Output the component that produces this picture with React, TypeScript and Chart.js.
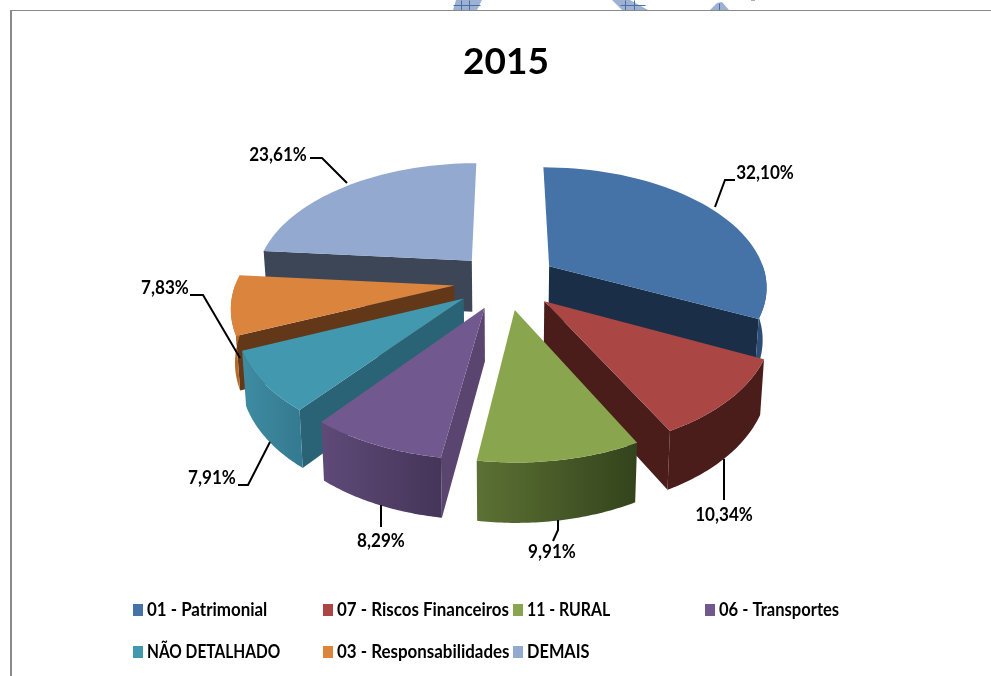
import React, { useEffect, useRef } from "react";
import { Chart, registerables } from "chart.js";

Chart.register(...registerables);

const chartTitle = "2015";
const categories = [
  "01 - Patrimonial",
  "07 - Riscos Financeiros",
  "11 - RURAL",
  "06 - Transportes",
  "NÃO DETALHADO",
  "03 - Responsabilidades",
  "DEMAIS",
];
const shares = [32.1, 10.34, 9.91, 8.29, 7.91, 7.83, 23.61];
const faceColors = ["#4572a7", "#aa4643", "#89a54e", "#71588f", "#4198af", "#db843d", "#93a9cf"];
const cutWallColors = ["#1a2e47", "#4a1c1a", "#3e4f22", "#5a4570", "#2a6375", "#633818", "#3c4657"];
const rimLeftColors = ["#2c4d77", "#4a1c1a", "#5c7134", "#5f4a78", "#3f8ca2", "#b56a2a", "#3c4657"];
const rimRightColors = ["#2c4d77", "#4a1c1a", "#33431c", "#453559", "#347a90", "#b56a2a", "#3c4657"];

// label style: [text centre x, text centre y], leader polyline
const labelAnchors: [number, number][] = [
  [765, 173], [724, 515], [552, 552], [381, 541], [212, 478], [165, 288], [278, 155],
];
const leaderPaths: [number, number][][] = [
  [[715, 207], [725, 180], [735, 180]],
  [[724, 459], [724, 500]],
  [[558, 520], [558, 530], [553, 541]],
  [[381, 505], [381, 527]],
  [[270, 442], [248, 485], [238, 485]],
  [[240, 358], [203, 295], [190, 295]],
  [[347, 183], [322, 158], [310, 158]],
];
const legendColumns = [133, 323, 513, 705];
const legendRows = [610, 652];
const legendCells = [[0, 0], [1, 0], [2, 0], [3, 0], [0, 1], [1, 1], [2, 1]];
const legendSqueeze = [0.94, 0.94, 0.88, 0.92, 0.86, 0.94, 0.91];

const EXPLODE = 52;
const TILT = 0.544;
const PERSPECTIVE = 0.000716;
const DEPTH = 52;
const FONT = "Lato, 'Open Sans', sans-serif";

const squeezedText = (ctx: any, text: string, x: number, y: number, factor: number) => {
  ctx.fillText(text, x, y, ctx.measureText(text).width * factor);
};

const pie3d = {
  id: "pie3d",
  beforeDraw(chart: any) {
    const { ctx, width, height } = chart;
    ctx.save();
    ctx.fillStyle = "#ffffff";
    ctx.fillRect(0, 0, width, height);
    // watermark fragments above the frame
    const bits = [
      [[453, 10], [456, 0], [482, 0], [477, 10]],
      [[612, 0], [630, 0], [648, 10], [622, 10]],
      [[710, 10], [717, 3], [722, 2], [729, 10]],
      [[751, 0], [755, 0], [755, 1], [751, 1]],
    ];
    ctx.fillStyle = "#9db2d3";
    bits.forEach((b) => {
      ctx.beginPath();
      b.forEach(([x, y], i) => (i ? ctx.lineTo(x, y) : ctx.moveTo(x, y)));
      ctx.closePath();
      ctx.fill();
    });
    ctx.strokeStyle = "#4a6fa5";
    ctx.lineWidth = 1;
    [[461, 0, 461, 10], [469, 0, 469, 10], [625, 0, 625, 10], [634, 0, 634, 10], [719, 3, 719, 10], [453, 5, 480, 5], [620, 5, 645, 5]].forEach(
      ([a, b, c, d]) => {
        ctx.beginPath();
        ctx.moveTo(a + 0.5, b + 0.5);
        ctx.lineTo(c + 0.5, d + 0.5);
        ctx.stroke();
      }
    );
    ctx.fillStyle = "#8a8a8a";
    ctx.fillRect(10, 10, width - 10, 1);
    ctx.fillRect(10, 10, 2, height - 10);
    ctx.restore();
  },
  beforeDatasetsDraw(chart: any) {
    const { ctx } = chart;
    const arcs = chart.getDatasetMeta(0).data;
    const order = arcs
      .map((_: any, i: number) => i)
      .sort((a: number, b: number) => {
        const m = (el: any) => (el.startAngle + el.endAngle) / 2;
        return Math.sin(m(arcs[a])) - Math.sin(m(arcs[b]));
      });
    order.forEach((i: number) => {
      const el = arcs[i];
      const s = el.startAngle;
      const e = el.endAngle;
      const R = el.outerRadius;
      const mid = (s + e) / 2;
      const ou = EXPLODE * Math.cos(mid);
      const ov = EXPLODE * Math.sin(mid);
      const proj = (u: number, v: number, low: boolean) => {
        const w = 1 / (1 - PERSPECTIVE * v);
        return [
          el.x + u * w * (low ? 0.985 : 1),
          el.y + TILT * v * w + (low ? DEPTH * Math.pow(w, 0.7) : 0),
        ];
      };
      const rimPt = (a: number, low: boolean) => proj(ou + R * Math.cos(a), ov + R * Math.sin(a), low);
      const apex = (low: boolean) => proj(ou, ov, low);
      const poly = (pts: number[][], fill: any) => {
        ctx.beginPath();
        pts.forEach(([x, y], k) => (k ? ctx.lineTo(x, y) : ctx.moveTo(x, y)));
        ctx.closePath();
        ctx.fillStyle = fill;
        ctx.fill();
      };
      const steps = 48;
      const angles: number[] = [];
      for (let k = 0; k <= steps; k++) angles.push(s + ((e - s) * k) / steps);

      // visible cut faces
      if (Math.sin(s - Math.PI / 2) > 0) {
        poly([apex(false), rimPt(s, false), rimPt(s, true), apex(true)], cutWallColors[i]);
      }
      if (Math.sin(e + Math.PI / 2) > 0) {
        poly([apex(false), rimPt(e, false), rimPt(e, true), apex(true)], cutWallColors[i]);
      }
      // visible outer rim
      const vis = angles.filter((a) => Math.sin(a) > -0.02);
      if (vis.length > 1) {
        const top = vis.map((a) => rimPt(a, false));
        const bottom = vis.map((a) => rimPt(a, true)).reverse();
        const xs = top.map((p) => p[0]);
        const g = ctx.createLinearGradient(Math.min(...xs), 0, Math.max(...xs), 0);
        g.addColorStop(0, rimLeftColors[i]);
        g.addColorStop(1, rimRightColors[i]);
        poly([...top, ...bottom], g);
      }
      // top face
      poly([apex(false), ...angles.map((a) => rimPt(a, false))], faceColors[i]);
    });
    return false;
  },
  afterDraw(chart: any) {
    const { ctx } = chart;
    ctx.save();
    ctx.strokeStyle = "#000000";
    ctx.lineWidth = 2;
    leaderPaths.forEach((path) => {
      ctx.beginPath();
      path.forEach(([x, y], k) => (k ? ctx.lineTo(x, y) : ctx.moveTo(x, y)));
      ctx.stroke();
    });
    ctx.fillStyle = "#000000";
    ctx.textAlign = "center";
    ctx.textBaseline = "middle";
    ctx.font = `bold 18px ${FONT}`;
    shares.forEach((v, i) => {
      const [x, y] = labelAnchors[i];
      squeezedText(ctx, v.toFixed(2).replace(".", ",") + "%", x, y, 0.95);
    });
    ctx.textAlign = "left";
    categories.forEach((name, i) => {
      const [c, r] = legendCells[i];
      const x = legendColumns[c];
      const y = legendRows[r];
      ctx.fillStyle = faceColors[i];
      ctx.fillRect(x, y - 6, 10, 12);
      ctx.fillStyle = "#000000";
      squeezedText(ctx, name, x + 14, y, legendSqueeze[i]);
    });
    ctx.restore();
  },
};

export default function App() {
  const ref = useRef<HTMLCanvasElement | null>(null);
  useEffect(() => {
    if (!ref.current) return;
    const chart = new Chart(ref.current, {
      type: "pie",
      data: {
        labels: categories,
        datasets: [{ data: shares, backgroundColor: faceColors, borderWidth: 0, radius: 218 }],
      },
      options: {
        responsive: false,
        animation: false,
        events: [],
        layout: { padding: { left: 21, top: 0, right: 0, bottom: 199 } },
        plugins: {
          legend: { display: false },
          tooltip: { enabled: false },
          title: {
            display: true,
            text: chartTitle,
            color: "#000000",
            fullSize: false,
            font: { family: FONT, size: 37, weight: "bold", lineHeight: 1.243 },
            padding: { top: 39, bottom: 0 },
          },
        },
      },
      plugins: [pie3d],
    } as any);
    return () => chart.destroy();
  }, []);
  return (
    <canvas
      ref={ref}
      width={991}
      height={676}
      style={{ position: "absolute", left: 0, top: 0, display: "block" }}
    />
  );
}
